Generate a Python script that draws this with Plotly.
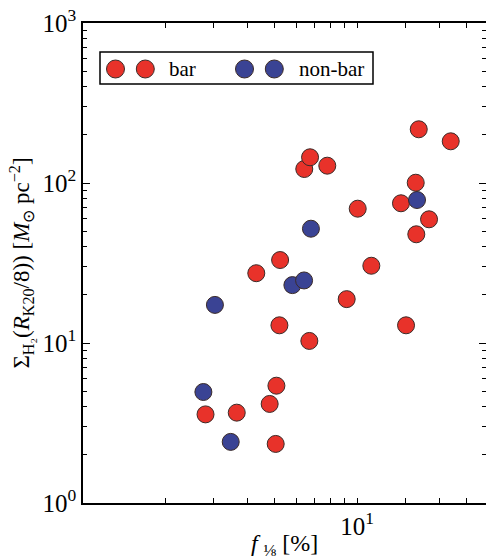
import plotly.graph_objects as go

# ---- data ----
bar_f = [6.42, 6.74, 7.79, 5.24, 4.29, 16.8, 21.98, 16.38, 14.47, 18.32, 16.46,
         10.06, 11.28, 9.17, 5.21, 6.70, 15.10, 5.08, 4.80, 2.80, 3.64, 5.05]
bar_s = [122.3, 144.8, 128.3, 33.0, 27.3, 216.6, 182.2, 100.4, 74.7, 59.3, 47.8,
         69.1, 30.4, 18.8, 12.9, 10.3, 12.9, 5.41, 4.16, 3.58, 3.67, 2.34]
nonbar_f = [6.79, 5.81, 6.41, 3.03, 16.56, 2.75, 3.46]
nonbar_s = [51.8, 23.0, 24.6, 17.3, 78.3, 4.94, 2.41]

y_tickvals = [1, 10, 100, 1000]
y_ticktext = ["10<sup>0</sup>", "10<sup>1</sup>", "10<sup>2</sup>", "10<sup>3</sup>"]
y_minor = [m * 10 ** k for k in range(3) for m in range(2, 10)]
x_tickvals = [10]
x_ticktext = ["10<sup>1</sup>"]
x_minor = [2, 3, 4, 5, 6, 7, 8, 9, 15, 20, 25]

RED = "#E8322A"
BLUE = "#3A4394"
EDGE = "#3b2b28"
FONT = "Liberation Serif"

W, H = 486, 560
L, R, T, B = 83, 0, 23, 57
PW, PH = W - L - R, H - T - B


def px(x):
    return (x - L) / PW


def py(y):
    return (H - B - y) / PH


fig = go.Figure()
fig.add_trace(go.Scatter(x=bar_f, y=bar_s, mode="markers", name="bar",
                         marker=dict(size=17, color=RED, line=dict(color=EDGE, width=1))))
fig.add_trace(go.Scatter(x=nonbar_f, y=nonbar_s, mode="markers", name="non-bar",
                         marker=dict(size=17, color=BLUE, line=dict(color=EDGE, width=1))))

# legend box drawn by hand (two markers per entry, as in the reference)
shapes = [dict(type="rect", xref="paper", yref="paper",
               x0=px(100), x1=px(373), y0=py(84), y1=py(52),
               line=dict(color="black", width=1.5), fillcolor="white", layer="above")]
for cx, col in [(115.5, RED), (145.3, RED), (244.5, BLUE), (274.3, BLUE)]:
    shapes.append(dict(type="circle", xref="paper", yref="paper",
                       x0=px(cx - 9), x1=px(cx + 9), y0=py(69 + 9), y1=py(69 - 9),
                       fillcolor=col, line=dict(color=EDGE, width=1), layer="above"))
annotations = [
    dict(text="bar", xref="paper", yref="paper", x=px(167), y=py(69), xanchor="left",
         yanchor="middle", showarrow=False, font=dict(family=FONT, size=21, color="black")),
    dict(text="non-bar", xref="paper", yref="paper", x=px(297), y=py(69), xanchor="left",
         yanchor="middle", showarrow=False, font=dict(family=FONT, size=21, color="black")),
]

axis_common = dict(showline=True, linecolor="black", linewidth=1.5, mirror="ticks",
                   ticks="inside", tickcolor="black", showgrid=False, zeroline=False,
                   tickfont=dict(family=FONT, size=25, color="black"))

fig.update_layout(
    width=W, height=H, margin=dict(l=L, r=R, t=T, b=B, pad=0, autoexpand=False),
    paper_bgcolor="white", plot_bgcolor="white", showlegend=False,
    shapes=shapes, annotations=annotations,
    xaxis=dict(type="log", range=[0, 1.4708], tickmode="array", tickvals=x_tickvals,
               ticktext=x_ticktext, ticklen=5, tickwidth=1.2,
               minor=dict(tickmode="array", tickvals=x_minor, ticks="inside", ticklen=5,
                          tickwidth=1.2, tickcolor="black", showgrid=False),
               title=dict(text="<i>f</i> <sub>⅛</sub> [%]", standoff=2,
                          font=dict(family=FONT, size=24, color="black")),
               **axis_common),
    yaxis=dict(type="log", range=[0, 3], tickmode="array", tickvals=y_tickvals,
               ticktext=y_ticktext, ticklen=7, tickwidth=1.2,
               minor=dict(tickmode="array", tickvals=y_minor, ticks="inside", ticklen=4,
                          tickwidth=1, tickcolor="black", showgrid=False),
               title=dict(text="Σ<sub>H₂</sub>(<i>R</i><sub>K20</sub>/8)) [<i>M</i><sub>⊙</sub> pc<sup>−2</sup>]",
                          standoff=6, font=dict(family=FONT, size=23, color="black")),
               **axis_common),
)

fig.write_html("out.html", config={"displayModeBar": False},
               post_script="document.body.style.margin='0px';document.body.style.overflow='hidden';")
